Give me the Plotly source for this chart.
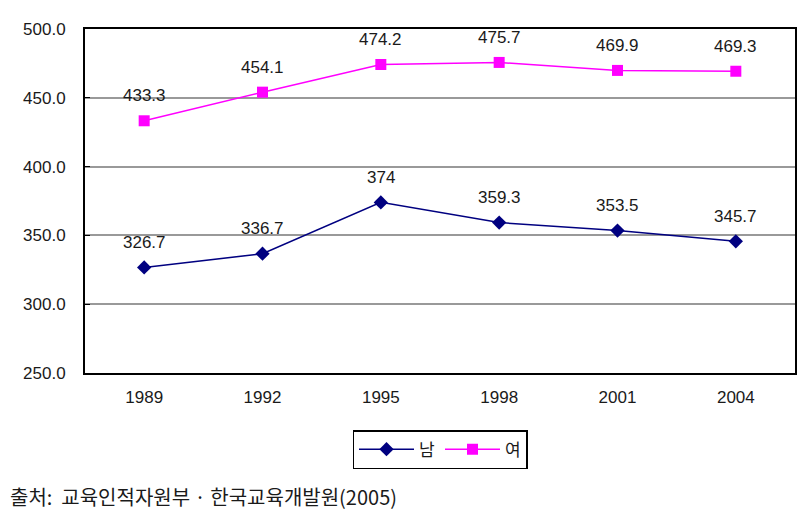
import plotly.graph_objects as go

years = ["1989", "1992", "1995", "1998", "2001", "2004"]
male = [326.7, 336.7, 374, 359.3, 353.5, 345.7]
female = [433.3, 454.1, 474.2, 475.7, 469.9, 469.3]
male_labels = ["326.7", "336.7", "374", "359.3", "353.5", "345.7"]
female_labels = ["433.3", "454.1", "474.2", "475.7", "469.9", "469.3"]
y_ticks = [250, 300, 350, 400, 450, 500]
y_tick_text = ["250.0", "300.0", "350.0", "400.0", "450.0", "500.0"]

font_fam = "Liberation Sans, Noto Sans CJK KR, sans-serif"
kr_fam = "Noto Sans CJK KR, sans-serif"
txt_color = "#1a1a1a"

fig = go.Figure()
fig.add_trace(go.Scatter(
    x=years, y=male, name="남", mode="lines+markers",
    line=dict(color="#000080", width=1.5),
    marker=dict(symbol="diamond", size=11, color="#000080"),
))
fig.add_trace(go.Scatter(
    x=years, y=female, name="여", mode="lines+markers",
    line=dict(color="#FF00FF", width=1.5),
    marker=dict(symbol="square", size=11, color="#FF00FF"),
))
for i, (v, t) in enumerate(zip(male, male_labels)):
    fig.add_annotation(x=i, y=v, text=t, showarrow=False, yshift=25,
                       font=dict(size=17, color=txt_color, family=font_fam))
for i, (v, t) in enumerate(zip(female, female_labels)):
    fig.add_annotation(x=i, y=v, text=t, showarrow=False, yshift=25,
                       font=dict(size=17, color=txt_color, family=font_fam))

fig.add_annotation(xref="paper", yref="paper", x=-0.1083, y=-0.36,
                   xanchor="left", yanchor="middle",
                   text="출처:  교육인적자원부 · 한국교육개발원(2005)", showarrow=False,
                   font=dict(size=20, color=txt_color, family=kr_fam))

fig.update_layout(
    width=801, height=518,
    margin=dict(l=77, r=13, t=14, b=153),
    paper_bgcolor="white", plot_bgcolor="white",
    showlegend=True,
    legend=dict(orientation="h", x=0.5, xanchor="center", y=-0.166, yanchor="top",
                bordercolor="black", borderwidth=1.5,
                font=dict(size=17, color=txt_color, family=kr_fam),
                itemwidth=55, tracegroupgap=0),
    font=dict(family=font_fam, size=17, color=txt_color),
)
fig.update_xaxes(type="category", range=[-0.5, 5.5], showgrid=False,
                 showline=True, linecolor="black", linewidth=2, mirror=True,
                 ticks="", tickfont=dict(size=17), ticklabelstandoff=8)
fig.update_yaxes(range=[250, 500], tickvals=y_ticks, ticktext=y_tick_text,
                 showgrid=True, gridcolor="#999999", gridwidth=1.5,
                 showline=True, linecolor="black", linewidth=2, mirror=True,
                 ticks="inside", ticklen=5, tickcolor="black",
                 zeroline=False, tickfont=dict(size=17), ticklabelstandoff=14)

fig.write_html("out.html")
